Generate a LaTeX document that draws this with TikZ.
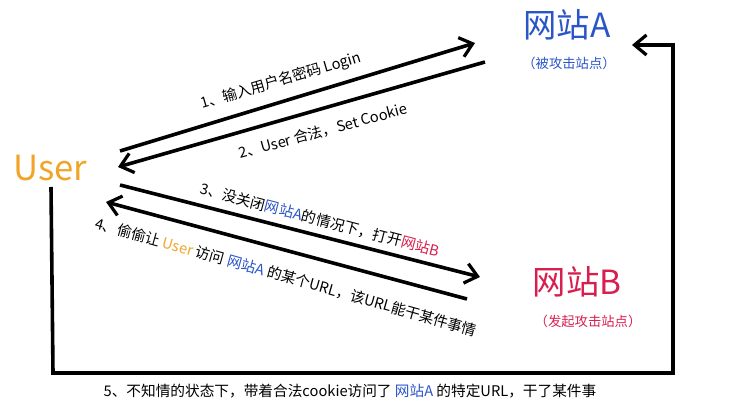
\documentclass[tikz,border=0pt]{standalone}
\usepackage{fontspec}
\setmainfont{Noto Sans CJK SC}
\usetikzlibrary{arrows.meta}
\definecolor{userorange}{HTML}{F0A428}
\definecolor{siteblue}{HTML}{2A55C8}
\definecolor{sitered}{HTML}{D81E4E}
\tikzset{
  flow/.style={line width=2.7pt, -{Straight Barb[length=9pt,width=15pt,line width=2.4pt]}},
  steplabel/.style={font=\fontsize{11}{13}\selectfont, inner sep=0pt},
  notelabel/.style={font=\fontsize{10}{12}\selectfont, inner sep=0pt},
  bigname/.style={font=\fontsize{25}{30}\selectfont, inner sep=0pt},
}
\begin{document}
\begin{tikzpicture}[x=0.75pt,y=-0.75pt]
  \useasboundingbox (0,0) rectangle (740,409);
  % sites and user
  \node[bigname, text=userorange, font=\fontsize{26}{30}\selectfont] (user) at (50,168) {User};
  \node[bigname, text=siteblue] (siteA) at (567,25) {网站A};
  \node[notelabel, text=siteblue] (noteA) at (569,63) {（被攻击站点）};
  \node[bigname, text=sitered] (siteB) at (577,282) {网站B};
  \node[notelabel, text=sitered] (noteB) at (588,321) {（发起攻击站点）};
  % arrow ends
  \coordinate (l1) at (120,151); \coordinate (r1) at (475,43);
  \coordinate (r2) at (485,62);  \coordinate (l2) at (118,167);
  \coordinate (l3) at (120,185); \coordinate (r3) at (480,277);
  \coordinate (r4) at (467,299); \coordinate (l4) at (106,202);
  \coordinate (b0) at (51,187);  \coordinate (b1) at (53,373);
  \coordinate (b2) at (673,373); \coordinate (b3) at (673,45);
  \coordinate (b4) at (632,45);
  \draw[flow] (l1) -- (r1);
  \draw[flow] (r2) -- (l2);
  \draw[flow] (l3) -- (r3);
  \draw[flow] (r4) -- (l4);
  \draw[flow] (b0) -- (b1) -- (b2) -- (b3) -- (b4);
  % steps
  \node[steplabel, rotate=16.5] (t1) at (281,81) {1、输入用户名密码 Login};
  \node[steplabel, rotate=15] (t2) at (323,131) {2、User 合法，Set Cookie};
  \node[steplabel, rotate=-14.7] (t3) at (320,220)
    {3、没关闭\textcolor{siteblue}{网站A}的情况下，打开\textcolor{sitered}{网站B}};
  \node[steplabel, rotate=-15.8] (t4) at (286,277)
    {4、偷偷让 \textcolor{userorange}{User} 访问 \textcolor{siteblue}{网站A} 的某个URL，该URL能干某件事情};
  \node[steplabel] (t5) at (350,391)
    {5、不知情的状态下，带着合法cookie访问了 \textcolor{siteblue}{网站A} 的特定URL，干了某件事};
\end{tikzpicture}
\end{document}
